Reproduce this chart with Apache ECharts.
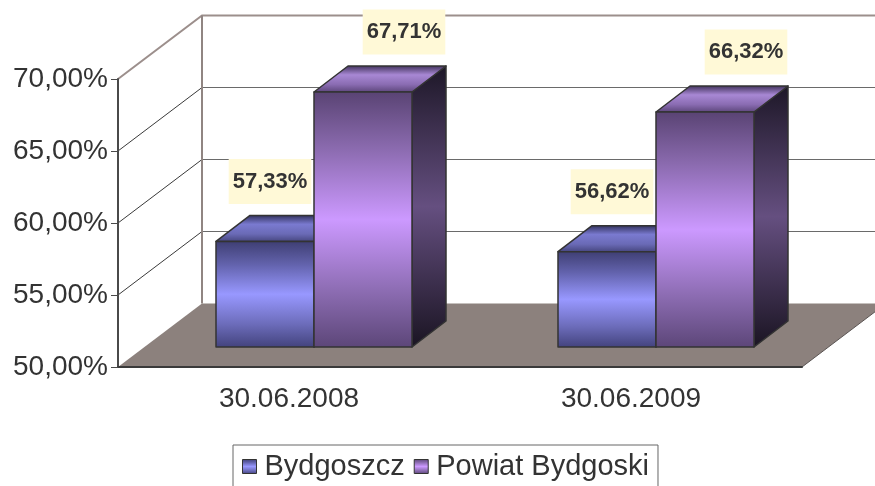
<!DOCTYPE html>
<html lang="pl">
<head>
<meta charset="utf-8">
<title>Bydgoszcz / Powiat Bydgoski</title>
<script src="https://cdn.jsdelivr.net/npm/echarts@6/dist/echarts.min.js"></script>
<style>
  html, body { margin: 0; padding: 0; background: #fff; }
  #chart { width: 875px; height: 486px; }
</style>
</head>
<body>
<div id="chart"></div>
<script>
  const categories = ['30.06.2008', '30.06.2009'];
  const seriesNames = ['Bydgoszcz', 'Powiat Bydgoski'];
  const bydgoszcz = [57.33, 56.62];
  const powiat = [67.71, 66.32];
  const yTicks = [50, 55, 60, 65, 70];

  const FONT = '"Liberation Sans", Arial, sans-serif';
  // oblique "3D" offsets in px, Excel style
  const WALL = [84, -63.5];      // depth of floor / back wall
  const BAR_FRONT = [25, -20];   // where the bar front faces sit
  const BAR_SIDE = [34, -26];    // bar depth
  const BAR_W = 98;

  const pct = v => v.toFixed(2).replace('.', ',') + '%';

  function grad(stops) {
    return {
      type: 'linear', x: 0, y: 0, x2: 0, y2: 1,
      colorStops: stops.map(([o, c]) => ({ offset: o, color: c }))
    };
  }

  const palettes = {
    blue: {
      front: [[0, '#3e3e72'], [0.22, '#6262ac'], [0.5, '#9898ff'], [0.78, '#6c6cba'], [1, '#42427c']],
      top: [[0, '#2e2e58'], [0.35, '#7a7ad0'], [0.7, '#6a6ab6'], [1, '#44447c']],
      side: [[0, '#1c1c34'], [0.5, '#4a4a84'], [1, '#1c1c34']]
    },
    purple: {
      front: [[0, '#594373'], [0.22, '#8a6aae'], [0.5, '#cc99ff'], [0.78, '#8c6cb2'], [1, '#5c4678']],
      top: [[0, '#3c2e56'], [0.35, '#a888d4'], [0.7, '#8a6cb2'], [1, '#5a4478']],
      side: [[0, '#1d1727'], [0.5, '#654f80'], [1, '#1a1422']]
    }
  };

  // back wall, side wall grid lines and floor
  function renderFrame(params, api) {
    const cs = params.coordSys;
    const x0 = cs.x, x1 = cs.x + cs.width;
    const [dx, dy] = WALL;
    const children = [];
    const yBase = api.coord([0, yTicks[0]])[1];
    const yTop = api.coord([0, yTicks[yTicks.length - 1]])[1];

    // floor
    children.push({
      type: 'polygon',
      shape: { points: [[x0, yBase], [x0 + dx, yBase + dy], [x1 + dx, yBase + dy], [x1, yBase]] },
      style: { fill: '#8c817d', stroke: null }
    });
    children.push({
      type: 'line',
      shape: { x1: x1, y1: yBase, x2: x1 + dx, y2: yBase + dy },
      style: { stroke: '#5a5452', lineWidth: 1 }
    });

    yTicks.slice(1, -1).forEach(v => {
      const y = api.coord([0, v])[1];
      children.push({
        type: 'line',
        shape: { x1: x0, y1: y, x2: x0 + dx, y2: y + dy },
        style: { stroke: '#3a3a3a', lineWidth: 1 }
      });
      children.push({
        type: 'line',
        shape: { x1: x0 + dx, y1: y + dy, x2: x1 + dx, y2: y + dy },
        style: { stroke: '#6a6a6a', lineWidth: 1 }
      });
    });

    // wall edges
    children.push({
      type: 'polyline',
      shape: { points: [[x0, yTop], [x0 + dx, yTop + dy], [x1 + dx, yTop + dy]] },
      style: { stroke: '#9c8f8c', lineWidth: 2, fill: null }
    });
    children.push({
      type: 'line',
      shape: { x1: x0 + dx, y1: yTop + dy, x2: x0 + dx, y2: yBase + dy },
      style: { stroke: '#908582', lineWidth: 2 }
    });
    return { type: 'group', children };
  }

  function barRenderer(slot, pal, labelDx) {
    return function (params, api) {
      const cat = api.value(0);
      const v = api.value(1);
      const c = api.coord([cat, v]);
      const b = api.coord([cat, yTicks[0]]);
      const xl = c[0] - BAR_W + slot * BAR_W + BAR_FRONT[0];
      const xr = xl + BAR_W;
      const yt = c[1] + BAR_FRONT[1];
      const yb = b[1] + BAR_FRONT[1];
      const [dx, dy] = BAR_SIDE;
      const edge = { stroke: '#333', lineWidth: 1.5, lineJoin: 'round' };
      return {
        type: 'group',
        children: [
          {
            type: 'polygon',
            shape: { points: [[xr, yt], [xr + dx, yt + dy], [xr + dx, yb + dy], [xr, yb]] },
            style: Object.assign({ fill: grad(pal.side) }, edge)
          },
          {
            type: 'polygon',
            shape: { points: [[xl, yt], [xl + dx, yt + dy], [xr + dx, yt + dy], [xr, yt]] },
            style: Object.assign({ fill: grad(pal.top) }, edge)
          },
          {
            type: 'rect',
            shape: { x: xl, y: yt, width: BAR_W, height: yb - yt },
            style: Object.assign({ fill: grad(pal.front) }, edge)
          },
          {
            type: 'text',
            style: {
              x: (xl + xr) / 2 + labelDx,
              y: yt - 60,
              text: pct(v),
              align: 'center',
              verticalAlign: 'middle',
              font: 'bold 22px ' + FONT,
              fill: '#333',
              backgroundColor: '#fff9d7',
              padding: [12, 4, 11, 4]
            }
          }
        ]
      };
    };
  }

  const chart = echarts.init(document.getElementById('chart'));
  chart.setOption({
    animation: false,
    backgroundColor: '#fff',
    textStyle: { fontFamily: FONT },
    grid: { left: 118, right: 73, top: 79, bottom: 119 },
    legend: {
      data: seriesNames,
      left: 233,
      top: 445,
      icon: 'rect',
      itemWidth: 14,
      itemHeight: 14,
      itemGap: 9,
      padding: [7, 9, 7, 9],
      borderColor: '#666',
      borderWidth: 1,
      textStyle: { fontSize: 29, color: '#333', fontFamily: FONT, padding: [0, 0, 0, 3] },
      itemStyle: { borderColor: '#333', borderWidth: 1 }
    },
    xAxis: {
      type: 'category',
      data: categories,
      z: 5,
      axisLine: { lineStyle: { color: '#3a3a3a', width: 2 } },
      axisTick: { length: 7, lineStyle: { color: '#8a8a8a', width: 2 } },
      axisLabel: { fontSize: 28, color: '#333', margin: 18, fontFamily: FONT },
      splitLine: { show: false }
    },
    yAxis: {
      type: 'value',
      min: 50,
      max: 70,
      interval: 5,
      z: 5,
      axisLine: { show: true, lineStyle: { color: '#4a4a4a', width: 2 } },
      axisTick: { show: true, length: 7, lineStyle: { color: '#4a4a4a', width: 1 } },
      axisLabel: { fontSize: 28, color: '#333', margin: 10, fontFamily: FONT, formatter: v => pct(v) },
      splitLine: { show: false }
    },
    series: [
      {
        name: 'frame',
        type: 'custom',
        silent: true,
        z: 1,
        data: [[0, 50]],
        encode: { x: 0, y: 1 },
        renderItem: renderFrame
      },
      {
        name: seriesNames[0],
        type: 'custom',
        z: 2,
        itemStyle: { color: grad(palettes.blue.front), borderColor: '#333', borderWidth: 1 },
        data: bydgoszcz.map((v, i) => [i, v]),
        encode: { x: 0, y: 1 },
        renderItem: barRenderer(0, palettes.blue, 5)
      },
      {
        name: seriesNames[1],
        type: 'custom',
        z: 2,
        itemStyle: { color: grad(palettes.purple.front), borderColor: '#333', borderWidth: 1 },
        data: powiat.map((v, i) => [i, v]),
        encode: { x: 0, y: 1 },
        renderItem: barRenderer(1, palettes.purple, 41)
      }
    ]
  });
</script>
</body>
</html>
